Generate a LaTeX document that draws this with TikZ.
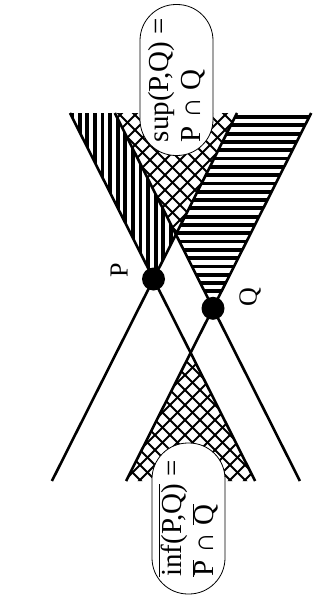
\documentclass[tikz,border=0pt]{standalone}
\usepackage{fontspec}
\setmainfont{Liberation Serif}

\begin{document}
\begin{tikzpicture}[x=1pt, y=-1pt,
    cone/.style={line width=2.6pt},
    apex/.style={circle, fill=black, inner sep=0pt, minimum size=23pt},
    tag/.style={rotate=90, inner sep=0pt, font=\fontsize{26}{28}\selectfont},
    bound/.style={draw, line width=0.8pt, fill=white, rotate=90,
        rounded corners=36pt, minimum width=151pt, minimum height=73pt,
        inner sep=0pt, align=left, font=\fontsize{29}{32}\selectfont},
    stripe/.style={line width=3.8pt},
    hatch/.style={line width=2pt}
]
\useasboundingbox (0,0) rectangle (320,602);

% apexes of the two cones
\node[apex] (P) at (153.5,279) {};
\node[apex] (Q) at (213,308.3) {};

% ends of the cone lines
\coordinate (ptl) at (70,113);
\coordinate (ptr) at (237,113);
\coordinate (pbl) at (51.9,481);
\coordinate (pbr) at (255.1,481);
\coordinate (qtl) at (114.8,113);
\coordinate (qtr) at (311.2,113);
\coordinate (qbl) at (126.1,481);
\coordinate (qbr) at (299.9,481);
\coordinate (top) at (intersection of ptr--pbl and qtl--qbr);
\coordinate (bot) at (intersection of ptl--pbr and qtr--qbl);

% only P
\begin{scope}
  \clip (ptl) -- (qtl) -- (top) -- (P.center) -- cycle;
  \foreach \x in {72,79.6,...,182}
    \draw[stripe] (\x,110) -- (\x,290);
\end{scope}
% only Q
\begin{scope}
  \clip (qtr) -- (ptr) -- (top) -- (Q.center) -- cycle;
  \foreach \y in {117,125.3,...,315}
    \draw[stripe] (170,\y) -- (315,\y);
\end{scope}
% both
\begin{scope}
  \clip (qtl) -- (ptr) -- (top) -- cycle;
  \foreach \c in {-130,-115,...,140}
    \draw[hatch] (\c,0) -- ++(300,300);
  \foreach \c in {220,235,...,490}
    \draw[hatch] (\c,0) -- ++(-300,300);
\end{scope}
\begin{scope}
  \clip (pbr) -- (qbl) -- (bot) -- cycle;
  \foreach \c in {-370,-355,...,-90}
    \draw[hatch] (\c,0) -- ++(600,600);
  \foreach \c in {470,485,...,750}
    \draw[hatch] (\c,0) -- ++(-600,600);
\end{scope}

\draw[cone] (ptl) -- (pbr);
\draw[cone] (ptr) -- (pbl);
\draw[cone] (qtl) -- (qbr);
\draw[cone] (qtr) -- (qbl);

\node[tag] (plabel) at (119,270) {P};
\node[tag] (qlabel) at (250,297) {Q};

\node[bound] (sup) at (176.5,80) {sup(P,Q) =\\P ∩ Q};
\node[bound] (inf) at (188.5,518.5)
    {$\overline{\mbox{inf(P,Q)}}$ =\\$\overline{\mbox{P}}$ ∩ $\overline{\mbox{Q}}$};

\end{tikzpicture}
\end{document}
